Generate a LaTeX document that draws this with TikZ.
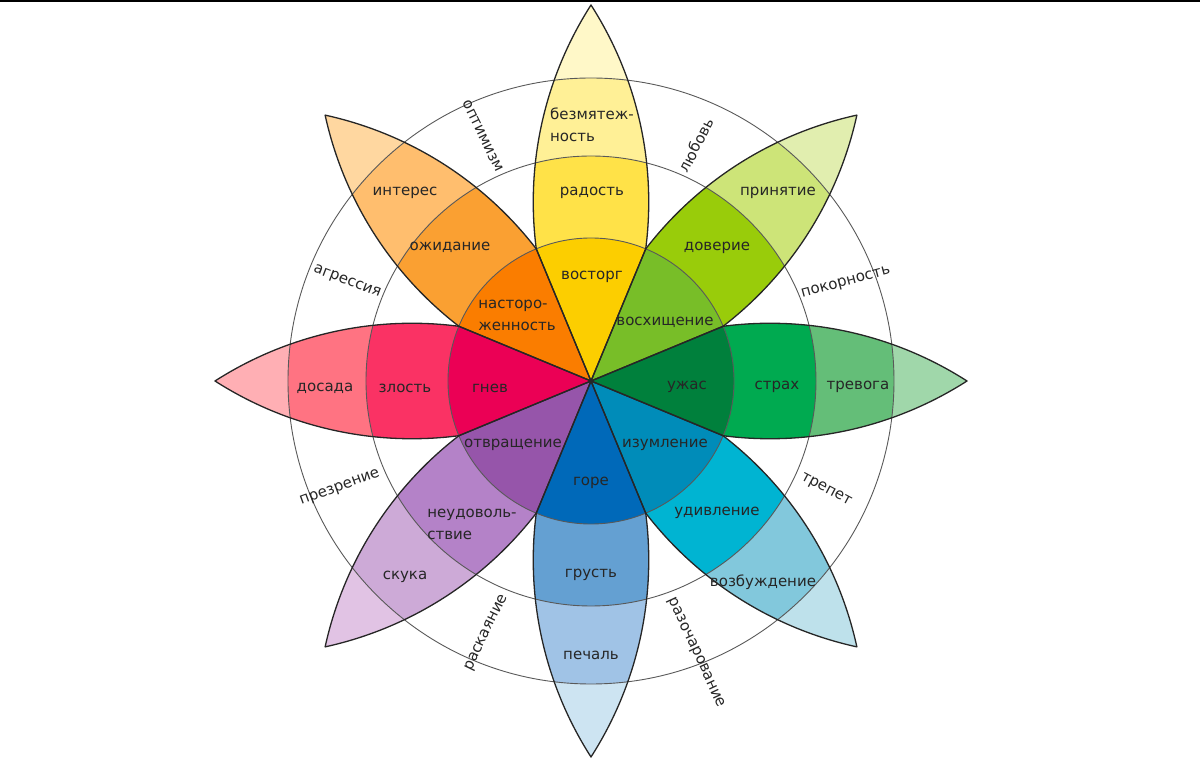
\documentclass[tikz,border=0pt]{standalone}
\usepackage{fontspec}
\setmainfont{DejaVu Sans}
\usepackage{xcolor}
\usepackage{tikz}
\definecolor{joyI}{RGB}{252,206,0}
\definecolor{joyB}{RGB}{255,226,72}
\definecolor{joyM}{RGB}{255,240,150}
\definecolor{joyT}{RGB}{255,248,200}
\definecolor{trustI}{RGB}{120,190,40}
\definecolor{trustB}{RGB}{153,204,10}
\definecolor{trustM}{RGB}{205,228,120}
\definecolor{trustT}{RGB}{225,238,175}
\definecolor{fearI}{RGB}{0,128,60}
\definecolor{fearB}{RGB}{0,170,80}
\definecolor{fearM}{RGB}{100,190,120}
\definecolor{fearT}{RGB}{160,215,170}
\definecolor{surpI}{RGB}{0,140,185}
\definecolor{surpB}{RGB}{0,180,210}
\definecolor{surpM}{RGB}{130,200,220}
\definecolor{surpT}{RGB}{190,225,235}
\definecolor{sadI}{RGB}{0,105,185}
\definecolor{sadB}{RGB}{100,160,210}
\definecolor{sadM}{RGB}{160,195,230}
\definecolor{sadT}{RGB}{205,228,242}
\definecolor{disgI}{RGB}{150,85,170}
\definecolor{disgB}{RGB}{180,130,200}
\definecolor{disgM}{RGB}{205,170,215}
\definecolor{disgT}{RGB}{225,195,228}
\definecolor{angerI}{RGB}{235,0,85}
\definecolor{angerB}{RGB}{250,50,100}
\definecolor{angerM}{RGB}{255,115,130}
\definecolor{angerT}{RGB}{255,175,180}
\definecolor{antiI}{RGB}{250,125,0}
\definecolor{antiB}{RGB}{250,160,50}
\definecolor{antiM}{RGB}{255,190,110}
\definecolor{antiT}{RGB}{255,215,160}
\def\petalpath{(0,0) -- (-22.5:143) to[bend right=20,looseness=0.88] (376,0) to[bend right=20,looseness=0.88] (22.5:143) -- cycle}

\begin{document}
\begin{tikzpicture}[x=1pt,y=1pt,
petal/.style={draw=black!85,line width=1.3pt,line join=round},
ring/.style={draw=black!65,line width=0.9pt},
lbl/.style={font=\fontsize{15}{22}\selectfont,text=black!85,inner sep=0pt,align=left},
dyad/.style={font=\fontsize{15}{18}\selectfont,text=black!85,inner sep=0pt}
]
\useasboundingbox (-591,-378) rectangle (609,381);
\fill[black] (-591,381) rectangle (609,379);

% petals, four bands each
\foreach \ang/\cI/\cB/\cM/\cT in {90/joyI/joyB/joyM/joyT,45/trustI/trustB/trustM/trustT,0/fearI/fearB/fearM/fearT,-45/surpI/surpB/surpM/surpT,-90/sadI/sadB/sadM/sadT,-135/disgI/disgB/disgM/disgT,180/angerI/angerB/angerM/angerT,135/antiI/antiB/antiM/antiT}{
\begin{scope}[rotate=\ang]
\clip \petalpath;
\fill[\cT] (0,0) circle (380);
\fill[\cM] (0,0) circle (303);
\fill[\cB] (0,0) circle (225);
\fill[\cI] (0,0) circle (143);
\end{scope}
}
\foreach \r in {143,225,303} \draw[ring] (0,0) circle (\r);
\foreach \ang in {0,45,...,315} \draw[petal,rotate=\ang] \petalpath;

% petal labels
\node[lbl] (bezm) at (1,256) {безмятеж-\\ность};
\node[lbl] (radost) at (1,188) {радость};
\node[lbl] (vostorg) at (1,104) {восторг};
\node[lbl] (interes) at (-186,188) {интерес};
\node[lbl] (ozhid) at (-141,134) {ожидание};
\node[lbl] (nastor) at (-74,66) {насторо-\\женность};
\node[lbl] (priny) at (187,188) {принятие};
\node[lbl] (dover) at (126,133) {доверие};
\node[lbl] (voskh) at (74,59) {восхищение};
\node[lbl] (dosada) at (-266,-7) {досада};
\node[lbl] (zlost) at (-186,-7) {злость};
\node[lbl] (gnev) at (-101,-7) {гнев};
\node[lbl] (uzhas) at (96,-6) {ужас};
\node[lbl] (strakh) at (186,-6) {страх};
\node[lbl] (trevoga) at (267,-6) {тревога};
\node[lbl] (izuml) at (74,-64) {изумление};
\node[lbl] (udivl) at (126,-132) {удивление};
\node[lbl] (vozb) at (172,-201) {возбуждение};
\node[lbl] (otvr) at (-78,-64) {отвращение};
\node[lbl] (neud) at (-119,-143) {неудоволь-\\ствие};
\node[lbl] (skuka) at (-186,-196) {скука};
\node[lbl] (gore) at (0,-102) {горе};
\node[lbl] (grust) at (0,-194) {грусть};
\node[lbl] (pechal) at (0,-274) {печаль};

% dyads between petals
\node[dyad,rotate=-64] (optim) at (-108,245) {оптимизм};
\node[dyad,rotate=63] (lyub) at (105,236) {любовь};
\node[dyad,rotate=15] (pokor) at (255,98) {покорность};
\node[dyad,rotate=-21] (agres) at (-244,99) {агрессия};
\node[dyad,rotate=20] (prezr) at (-251,-107) {презрение};
\node[dyad,rotate=-28] (trepet) at (235,-109) {трепет};
\node[dyad,rotate=64] (raskay) at (-104,-252) {раскаяние};
\node[dyad,rotate=-65] (razoch) at (105,-272) {разочарование};
\end{tikzpicture}
\end{document}
